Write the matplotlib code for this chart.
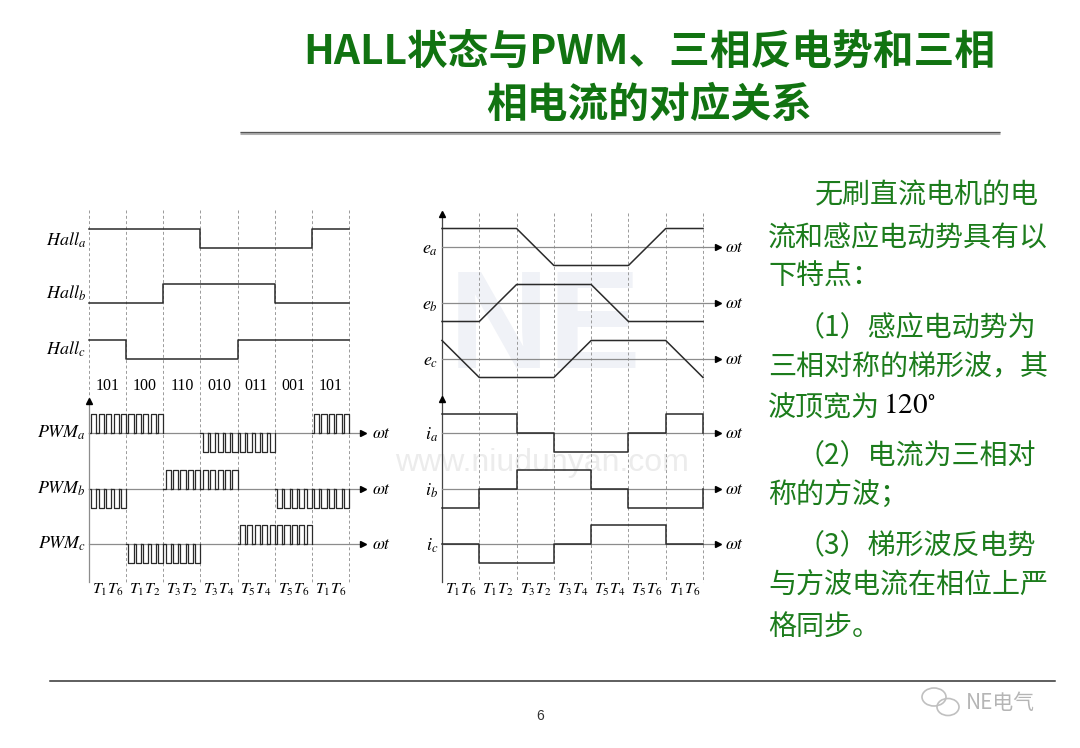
import matplotlib
matplotlib.use("Agg")
import matplotlib.pyplot as plt
import numpy as np

plt.rcParams['font.family'] = ['Noto Sans CJK SC', 'DejaVu Sans']
plt.rcParams['mathtext.fontset'] = 'stix'

# ------------------------------------------------------------------ data
title_lines = ["HALL状态与PWM、三相反电势和三相", "相电流的对应关系"]

hall_codes = ["101", "100", "110", "010", "011", "001", "101"]
hall_a = [1, 1, 1, 0, 0, 0, 1]
hall_b = [0, 0, 1, 1, 1, 0, 0]
hall_c = [1, 0, 0, 0, 1, 1, 1]

pwm_a = [1, 1, 0, -1, -1, 0, 1]
pwm_b = [-1, 0, 1, 1, 0, -1, -1]
pwm_c = [0, -1, -1, 0, 1, 1, 0]
pulses_per_sector = 5
pwm_duty = 0.7

# back-EMF level at each sector boundary (0..7)
emf_a = [1, 1, 1, -1, -1, -1, 1, 1]
emf_b = [-1, -1, 1, 1, 1, -1, -1, -1]
emf_c = [1, -1, -1, -1, 1, 1, 1, -1]

# phase currents per sector
cur_a = [1, 1, 0, -1, -1, 0, 1]
cur_b = [-1, 0, 1, 1, 0, -1, -1]
cur_c = [0, -1, -1, 0, 1, 1, 0]

switch_labels = [r"$T_1T_6$", r"$T_1T_2$", r"$T_3T_2$", r"$T_3T_4$",
                 r"$T_5T_4$", r"$T_5T_6$", r"$T_1T_6$"]
hall_names = [r"$Hall_a$", r"$Hall_b$", r"$Hall_c$"]
pwm_names = [r"$PWM_a$", r"$PWM_b$", r"$PWM_c$"]
emf_names = [r"$e_a$", r"$e_b$", r"$e_c$"]
cur_names = [r"$i_a$", r"$i_b$", r"$i_c$"]
axis_label = r"$\omega t$"

body_lines = ["无刷直流电机的电", "流和感应电动势具有以", "下特点：",
              "（1）感应电动势为", "三相对称的梯形波，其", "波顶宽为",
              "（2）电流为三相对", "称的方波；",
              "（3）梯形波反电势", "与方波电流在相位上严", "格同步。"]
body_extra = r"$120^{\circ}$"
page_number = "6"
watermark_url = "www.niudunyan.com"
watermark_logo = "NE"
brand = "NE电气"

# ------------------------------------------------------------------ layout
W, H, DPI = 1080, 748, 100
fig = plt.figure(figsize=(W / DPI, H / DPI), dpi=DPI)
fig.patch.set_facecolor("white")

def px_axes(x0, y0, x1, y1, z=1):
    ax = fig.add_axes([x0 / W, 1 - y1 / H, (x1 - x0) / W, (y1 - y0) / H], zorder=z)
    ax.set_axis_off()
    ax.patch.set_alpha(0)
    return ax

# overlay for page decorations
ov = px_axes(0, 0, W, H, z=0)
ov.set_xlim(0, W)
ov.set_ylim(H, 0)

TITLE_C = "#117311"
BODY_C = "#1c7c1c"

ov.text(649, 53, title_lines[0], ha="center", va="center", fontsize=29.3,
        fontweight="bold", color=TITLE_C)
ov.text(649, 105, title_lines[1], ha="center", va="center", fontsize=29.3,
        fontweight="bold", color=TITLE_C)
ov.plot([240, 1000], [133, 133], color="#b0b0b0", lw=2.2, solid_capstyle="butt")
ov.plot([240, 1000], [132, 132], color="#555555", lw=0.9, solid_capstyle="butt")
ov.plot([50, 1055], [681, 681], color="#333333", lw=1.1)
ov.text(540, 716, page_number, ha="center", va="center", fontsize=10,
        color="#333333", family="Liberation Sans")

# watermarks
ov.text(545, 332, watermark_logo, ha="center", va="center", fontsize=100,
        fontweight="bold", color="#f0f2f7", family="Liberation Sans")
ov.text(542, 463, watermark_url, ha="center", va="center", fontsize=23,
        color="#ececec", family="Liberation Sans")
ov.text(1000, 703, brand, ha="center", va="center", fontsize=15, color="#b5b5b5")
for cx, cy, w_, h_ in [(934, 697, 24, 18), (948, 707, 22, 17)]:
    e = matplotlib.patches.Ellipse((cx, cy), w_, h_, fill=False, ec="#c0c0c0", lw=1.2)
    ov.add_patch(e)

# body text
body_x = [815, 768, 768, 797, 768, 768, 797, 768, 797, 768, 768]
body_y = [195, 238, 277, 327, 367, 408, 455, 495, 545, 585, 627]
for t, x, y in zip(body_lines, body_x, body_y):
    ov.text(x, y, t, ha="left", va="center", fontsize=20.2, color=BODY_C,
            fontweight="medium")
ov.text(883, 405, body_extra, ha="left", va="center", fontsize=21, color="black")

# ------------------------------------------------------------------ left diagram
L_X0, L_SW = 89.0, 37.14
axL = px_axes(20, 195, 400, 610)
axL.set_xlim((20 - L_X0) / L_SW, (400 - L_X0) / L_SW)
axL.set_ylim(610, 195)

LINE_C = "#2a2a2a"
AX_C = "#8c8c8c"
DASH_C = "#9a9a9a"
sectors = np.arange(8)

axL.vlines(sectors, 210, 582, colors=DASH_C, lw=0.7, linestyles=(0, (3, 2.5)))

hall_low = [248, 303, 359]
hall_amp = 19
hall_label_y = [240, 293, 349]
for vals, base, name, ly in zip([hall_a, hall_b, hall_c], hall_low, hall_names, hall_label_y):
    yv = base - hall_amp * np.array(vals + [vals[-1]])
    axL.step(sectors, yv, where="post", color=LINE_C, lw=1.1)
    axL.text((86 - L_X0) / L_SW, ly, name, ha="right", va="center", fontsize=13)

for i, code in enumerate(hall_codes):
    axL.text(i + 0.5, 386, code, ha="center", va="center", fontsize=11.5,
             family="Liberation Serif")

pwm_base = [433, 489, 544]
pwm_amp = 19
end_L = (363 - L_X0) / L_SW
for vals, base, name in zip([pwm_a, pwm_b, pwm_c], pwm_base, pwm_names):
    axL.plot([0, end_L], [base, base], color=AX_C, lw=0.9)
    axL.plot([end_L], [base], marker=">", color="black", ms=5)
    axL.text((372 - L_X0) / L_SW, base, axis_label, ha="left", va="center", fontsize=12.5)
    axL.text((86 - L_X0) / L_SW, base, name, ha="right", va="center", fontsize=13)
    xs, ys = [], []
    gap = (1 - pwm_duty) / pulses_per_sector
    for s, st in enumerate(vals):
        if st == 0:
            continue
        for k in range(pulses_per_sector):
            xa = s + k / pulses_per_sector
            xb = s + (k + 1) / pulses_per_sector
            xs += [xa, xa + gap, xa + gap, xb, xb, np.nan]
            ys += [0, 0, st, st, 0, np.nan]
    axL.plot(xs, base - pwm_amp * np.array(ys, dtype=float), color=LINE_C, lw=0.9)

axL.plot([0, 0], [582, 402], color=AX_C, lw=0.9)
axL.plot([0], [401], marker="^", color="black", ms=5)
for i, lab in enumerate(switch_labels):
    axL.text(i + 0.5, 590, lab, ha="center", va="center", fontsize=11.5)

# ------------------------------------------------------------------ right diagram
R_X0, R_SW = 442.0, 37.29
axR = px_axes(400, 195, 770, 610)
axR.set_xlim((400 - R_X0) / R_SW, (770 - R_X0) / R_SW)
axR.set_ylim(610, 195)

axR.vlines(sectors[1:], 213, 582, colors=DASH_C, lw=0.7, linestyles=(0, (3, 2.5)))
axR.plot([0, 0], [582, 215], color="#444444", lw=0.9)
axR.plot([0], [214], marker="^", color="black", ms=5)
axR.plot([0], [399], marker="^", color="black", ms=5)

end_R = (718 - R_X0) / R_SW
emf_base = [247, 303, 359]
emf_amp = 18.5
for vals, base, name in zip([emf_a, emf_b, emf_c], emf_base, emf_names):
    axR.plot([0, end_R], [base, base], color=AX_C, lw=0.9)
    axR.plot([end_R], [base], marker=">", color="black", ms=5)
    axR.text((725 - R_X0) / R_SW, base, axis_label, ha="left", va="center", fontsize=12.5)
    axR.text((438 - R_X0) / R_SW, base + 2, name, ha="right", va="center", fontsize=13)
    axR.plot(sectors, base - emf_amp * np.array(vals), color=LINE_C, lw=1.1)

cur_base = [433, 489, 544]
cur_amp = 19
for vals, base, name in zip([cur_a, cur_b, cur_c], cur_base, cur_names):
    axR.plot([0, end_R], [base, base], color=AX_C, lw=0.9)
    axR.plot([end_R], [base], marker=">", color="black", ms=5)
    axR.text((725 - R_X0) / R_SW, base, axis_label, ha="left", va="center", fontsize=12.5)
    axR.text((438 - R_X0) / R_SW, base + 2, name, ha="right", va="center", fontsize=13)
    yv = base - cur_amp * np.array(vals + [0])
    axR.step(sectors, yv, where="post", color=LINE_C, lw=1.1)

for i, lab in enumerate(switch_labels):
    axR.text(i + 0.5, 590, lab, ha="center", va="center", fontsize=11.5)

fig.savefig("out.png", dpi=DPI)
